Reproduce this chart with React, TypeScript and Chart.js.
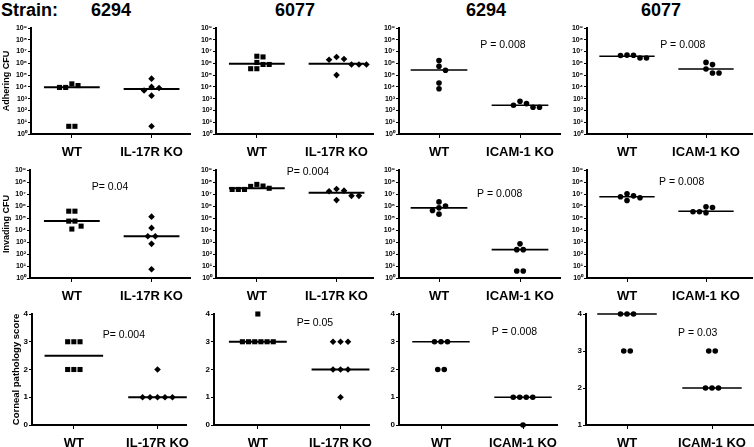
import React, { useEffect, useRef } from 'react';
import { Chart, registerables } from 'chart.js';
Chart.register(...registerables);

// ---------- text / categories ----------
const strainLabel = 'Strain:';
const strains = ['6294', '6077', '6294', '6077'];
const catsIL17R = ['WT', 'IL-17R KO'];
const catsICAM = ['WT', 'ICAM-1 KO'];
const rowTitles = ['Adhering CFU', 'Invading CFU', 'Corneal pathology score'];
const logTicks = [1, 10, 100, 1e3, 1e4, 1e5, 1e6, 1e7, 1e8, 1e9];
const logTickLabels = ['10⁰', '10¹', '10²', '10³', '10⁴', '10⁵', '10⁶', '10⁷', '10⁸', '10⁹'];
const scoreTicks = [0, 1, 2, 3, 4];
const scoreTicksFrom1 = [1, 2, 3, 4];

// ---------- row 1: adhering CFU ----------
const adh6294WT = [1.8e4, 1.3e4, 9e3, 9e3, 4.5, 4.5];
const adh6294IL17R = [5e4, 1e4, 8e3, 5e3, 1.8e3, 4.5];
const adh6077WT = [4e6, 3.5e6, 1.2e6, 8e5, 8e5, 3.5e5, 3.5e5];
const adh6077IL17R = [3.5e6, 2.3e6, 2e6, 8e5, 8e5, 8e5, 1e5];
const adh6294bWT = [1.7e6, 5.6e5, 2.6e5, 2.1e4, 7e3];
const adh6294bICAM = [600, 380, 275, 185, 185];
const adh6077bWT = [5e6, 4.8e6, 4.6e6, 2.8e6, 2.8e6];
const adh6077bICAM = [1.2e6, 7.8e5, 3.3e5, 1.5e5, 1.5e5];
const adhMedWT = [9.5e3, 9e5, 2.75e5, 4e6];
const adhMedKO = [6.6e3, 9e5, 2.8e2, 3.3e5];
const adhP = ['', '', 'P = 0.008', 'P = 0.008'];

// ---------- row 2: invading CFU ----------
const inv6294WT = [3.7e5, 3.7e5, 5.5e4, 5.5e4, 2.1e4, 1.2e4];
const inv6294IL17R = [1.3e5, 1.5e4, 3e3, 3e3, 700, 5.3];
const inv6077WT = [6.3e7, 4.6e7, 4.3e7, 3e7, 2.4e7, 2.4e7, 2.4e7];
const inv6077IL17R = [2.6e7, 1.9e7, 1.7e7, 7e6, 7e6, 3.1e6];
const inv6294bWT = [2.2e6, 1e6, 7e5, 4.2e5, 2.1e5];
const inv6294bICAM = [700, 230, 230, 3.8, 3.8];
const inv6077bWT = [1.05e7, 7e6, 5.9e6, 4.9e6, 2.9e6];
const inv6077bICAM = [8.5e5, 7.6e5, 3.3e5, 3.3e5, 2.7e5];
const invMedWT = [5.5e4, 3e7, 7e5, 5.9e6];
const invMedKO = [3e3, 1.3e7, 230, 3.7e5];
const invP = ['P= 0.04', 'P= 0.004', 'P = 0.008', 'P = 0.008'];

// ---------- row 3: corneal pathology score ----------
const path6294WT = [3, 3, 3, 2, 2, 2];
const path6294IL17R = [2, 1, 1, 1, 1, 1];
const path6077WT = [4, 3, 3, 3, 3, 3, 3];
const path6077IL17R = [3, 3, 3, 2, 2, 2, 1];
const path6294bWT = [3, 3, 3, 2, 2];
const path6294bICAM = [1, 1, 1, 1, 0];
const path6077bWT = [4, 4, 4, 3, 3];
const path6077bICAM = [3, 3, 2, 2, 2];
const pathMedWT = [2.5, 3, 3, 4];
const pathMedKO = [1, 2, 1, 2];
const pathP = ['P= 0.004', 'P= 0.05', 'P = 0.008', 'P = 0.03'];

// ---------- layout (pixels) ----------
const ROW_Y = [[28, 134], [170, 278], [314, 425]];
const AXIS_X = [
  [[31, 191], [216, 374], [399, 560], [587, 752]],
  [[30, 191], [216, 374], [399, 560], [587, 752]],
  [[32, 187], [214, 370], [399, 557], [586, 753]],
];
const CAT_X = [
  [[72, 152], [257, 337], [439, 520], [627, 706]],
  [[72, 152], [257, 337], [439, 520], [627, 706]],
  [[74, 158], [258, 341], [441, 523], [627, 712]],
];
const P_POS = [
  [null, null, [1.51, 3.6e7], [1.42, 3.6e7]],
  [[1.25, 3.8e7], [1.375, 7e8], [1.47, 1e7], [1.405, 1e8]],
  [[1.345, 3.24], [1.47, 3.68], [1.62, 3.35], [1.6, 3.49]],
];
const PAD_T = 14;
const PAD_R = 3;
const X_H = 30;
const FONT = "'Liberation Sans', Arial, Helvetica, sans-serif";

type Spec = {
  row: number; col: number;
  wt: number[]; ko: number[]; medWT: number; medKO: number;
  cats: string[]; wtStyle: string; koStyle: string; p: string;
};

const wtSets = [
  [adh6294WT, adh6077WT, adh6294bWT, adh6077bWT],
  [inv6294WT, inv6077WT, inv6294bWT, inv6077bWT],
  [path6294WT, path6077WT, path6294bWT, path6077bWT],
];
const koSets = [
  [adh6294IL17R, adh6077IL17R, adh6294bICAM, adh6077bICAM],
  [inv6294IL17R, inv6077IL17R, inv6294bICAM, inv6077bICAM],
  [path6294IL17R, path6077IL17R, path6294bICAM, path6077bICAM],
];
const medWTs = [adhMedWT, invMedWT, pathMedWT];
const medKOs = [adhMedKO, invMedKO, pathMedKO];
const pTexts = [adhP, invP, pathP];

const specs: Spec[] = [];
for (let r = 0; r < 3; r++) {
  for (let c = 0; c < 4; c++) {
    const il = c < 2;
    specs.push({
      row: r, col: c,
      wt: wtSets[r][c], ko: koSets[r][c],
      medWT: medWTs[r][c], medKO: medKOs[r][c],
      cats: il ? catsIL17R : catsICAM,
      wtStyle: il ? 'rect' : 'circle',
      koStyle: il ? 'rectRot' : 'circle',
      p: pTexts[r][c],
    });
  }
}

const markerRadius: Record<string, number> = { rect: 3.6, rectRot: 3.3, circle: 2.8 };
const markerStep: Record<string, number> = { rect: 6.2, rectRot: 7.5, circle: 6.5 };

// beeswarm: returns pixel x-offsets
function swarm(values: number[], toPx: (v: number) => number, d: number, size: number): number[] {
  const idx = values.map((_, i) => i).sort((a, b) => values[b] - values[a]);
  const rows: number[][] = [];
  for (const i of idx) {
    const last = rows[rows.length - 1];
    if (last && values[last[0]] === values[i]) last.push(i);
    else rows.push([i]);
  }
  const placed: { x: number; y: number }[] = [];
  const off = new Array(values.length).fill(0);
  const shifts = [0];
  for (let k = 1; k < 30; k++) shifts.push((k * d) / 2, (-k * d) / 2);
  for (const row of rows) {
    const y = toPx(values[row[0]]);
    const n = row.length;
    for (const s of shifts) {
      const xs = row.map((_, j) => (j - (n - 1) / 2) * d + s);
      const ok = xs.every((x) => placed.every((p) => Math.abs(p.x - x) >= d * 0.9 || Math.abs(p.y - y) >= size));
      if (ok) {
        row.forEach((i, j) => { off[i] = xs[j]; placed.push({ x: xs[j], y }); });
        break;
      }
    }
  }
  return off;
}

const pTextPlugin = {
  id: 'pText',
  afterDatasetsDraw(chart: any) {
    const s = chart.options.plugins.pText;
    if (!s || !s.text) return;
    const ctx = chart.ctx;
    ctx.save();
    ctx.font = `${s.size}px ${FONT}`;
    ctx.fillStyle = '#000';
    ctx.textBaseline = 'middle';
    ctx.textAlign = 'left';
    ctx.fillText(s.text, chart.scales.x.getPixelForValue(s.x), chart.scales.y.getPixelForValue(s.y));
    ctx.restore();
  },
};

function geometry(spec: Spec) {
  const [yTop, yBot] = ROW_Y[spec.row];
  const [ax0, ax1] = AXIS_X[spec.row][spec.col];
  const [cw, ck] = CAT_X[spec.row][spec.col];
  const left = spec.col === 0 ? 0 : ax0 - 30;
  const yw = ax0 - left;
  const width = ax1 - left + PAD_R;
  const top = yTop - PAD_T;
  const height = yBot - yTop + PAD_T + X_H;
  const unit = ck - cw;
  const xmin = 1 - (cw - ax0) / unit;
  const xmax = 2 + (ax1 - ck) / unit;
  return { yTop, yBot, left, yw, width, top, height, unit, xmin, xmax };
}

function buildConfig(spec: Spec) {
  const g = geometry(spec);
  const isLog = spec.row < 2;
  const yTicks = isLog ? logTicks : spec.col === 3 ? scoreTicksFrom1 : scoreTicks;
  const ymin = yTicks[0];
  const ymax = yTicks[yTicks.length - 1];
  const pxPerY = isLog ? (g.yBot - g.yTop) / 9 : (g.yBot - g.yTop) / (ymax - ymin);
  const toPx = (v: number) => (isLog ? Math.log10(v) : v) * pxPerY;

  const mkPts = (vals: number[], cat: number, style: string) => {
    const off = swarm(vals, toPx, markerStep[style], 5.5);
    return vals.map((v, i) => ({ x: cat + off[i] / g.unit, y: v }));
  };
  const hw = 0.35;
  const lw = spec.col < 2 ? 2 : 1.6;
  const pt = (style: string, data: any[]) => ({
    data, pointStyle: style, pointRadius: markerRadius[style], pointHoverRadius: markerRadius[style],
    backgroundColor: '#000', borderColor: '#000', borderWidth: 0, showLine: false, clip: false,
  });
  const med = (cat: number, v: number) => ({
    data: [{ x: cat - hw, y: v }, { x: cat + hw, y: v }],
    showLine: true, pointRadius: 0, borderColor: '#000', borderWidth: lw, backgroundColor: '#000', clip: false,
  });

  const pPos = P_POS[spec.row][spec.col];
  const titleText = spec.col === 0 ? rowTitles[spec.row] : '';

  return {
    type: 'scatter',
    data: {
      datasets: [
        med(1, spec.medWT),
        med(2, spec.medKO),
        pt(spec.wtStyle, mkPts(spec.wt, 1, spec.wtStyle)),
        pt(spec.koStyle, mkPts(spec.ko, 2, spec.koStyle)),
      ],
    },
    options: {
      animation: false,
      responsive: false,
      maintainAspectRatio: false,
      devicePixelRatio: 1,
      events: [],
      layout: { padding: { top: PAD_T, right: PAD_R, left: 0, bottom: 0 } },
      plugins: {
        legend: { display: false },
        tooltip: { enabled: false },
        pText: pPos ? { text: spec.p, x: pPos[0], y: pPos[1], size: 10.5 } : null,
      },
      scales: {
        x: {
          type: 'linear',
          min: g.xmin,
          max: g.xmax,
          afterBuildTicks: (s: any) => { s.ticks = [{ value: 1 }, { value: 2 }]; },
          afterFit: (s: any) => { s.height = X_H; s.paddingLeft = 0; s.paddingRight = 0; },
          ticks: {
            autoSkip: false, maxRotation: 0, minRotation: 0, padding: 7, color: '#000',
            font: { family: FONT, size: 13, weight: 'bold' },
            callback: (v: number) => spec.cats[Math.round(v) - 1],
          },
          grid: { drawOnChartArea: false, drawTicks: true, tickLength: 4, color: '#000', tickColor: '#000', lineWidth: 1 },
          border: { display: true, color: '#000', width: 2 },
        },
        y: {
          type: isLog ? 'logarithmic' : 'linear',
          min: ymin,
          max: ymax,
          afterBuildTicks: (s: any) => { s.ticks = yTicks.map((v) => ({ value: v })); },
          afterFit: (s: any) => { s.width = g.yw; s.paddingTop = 0; s.paddingBottom = 0; },
          ticks: {
            autoSkip: false, padding: 1, color: '#000',
            font: isLog ? { family: FONT, size: 7, weight: 'bold' } : { family: FONT, size: 8, weight: 'bold' },
            callback: (v: number) => (isLog ? logTickLabels[logTicks.indexOf(v)] ?? '' : String(v)),
          },
          grid: { drawOnChartArea: false, drawTicks: true, tickLength: 3, color: '#000', tickColor: '#000', lineWidth: 1 },
          border: { display: true, color: '#000', width: 2 },
          title: {
            display: !!titleText,
            text: titleText,
            color: '#000',
            font: { family: FONT, size: spec.row === 2 ? 9.5 : 9, weight: 'bold' },
            padding: { top: spec.row === 2 ? 11 : 1, bottom: 0 },
          },
        },
      },
    },
    plugins: [pTextPlugin],
  } as any;
}

function Panel({ spec }: { spec: Spec }) {
  const ref = useRef<HTMLCanvasElement>(null);
  const g = geometry(spec);
  useEffect(() => {
    const chart = new Chart(ref.current as HTMLCanvasElement, buildConfig(spec));
    return () => chart.destroy();
  }, []);
  return (
    <canvas
      ref={ref}
      width={g.width}
      height={g.height}
      style={{ position: 'absolute', left: g.left, top: g.top, width: g.width, height: g.height }}
    />
  );
}

const HEADER_CX = [111, 295, 486, 661];

export default function App() {
  return (
    <div style={{ position: 'absolute', left: 0, top: 0, width: 754, height: 447, background: '#fff', overflow: 'hidden', fontFamily: FONT }}>
      <div style={{ position: 'absolute', left: 1, top: 1, fontSize: 18, lineHeight: '18px', fontWeight: 'bold', color: '#000' }}>
        {strainLabel}
      </div>
      {strains.map((s, i) => (
        <div key={i} style={{ position: 'absolute', left: HEADER_CX[i] - 40, top: 1, width: 80, textAlign: 'center', fontSize: 18, lineHeight: '18px', fontWeight: 'bold', color: '#000' }}>
          {s}
        </div>
      ))}
      {specs.map((s, i) => (
        <Panel key={i} spec={s} />
      ))}
    </div>
  );
}
